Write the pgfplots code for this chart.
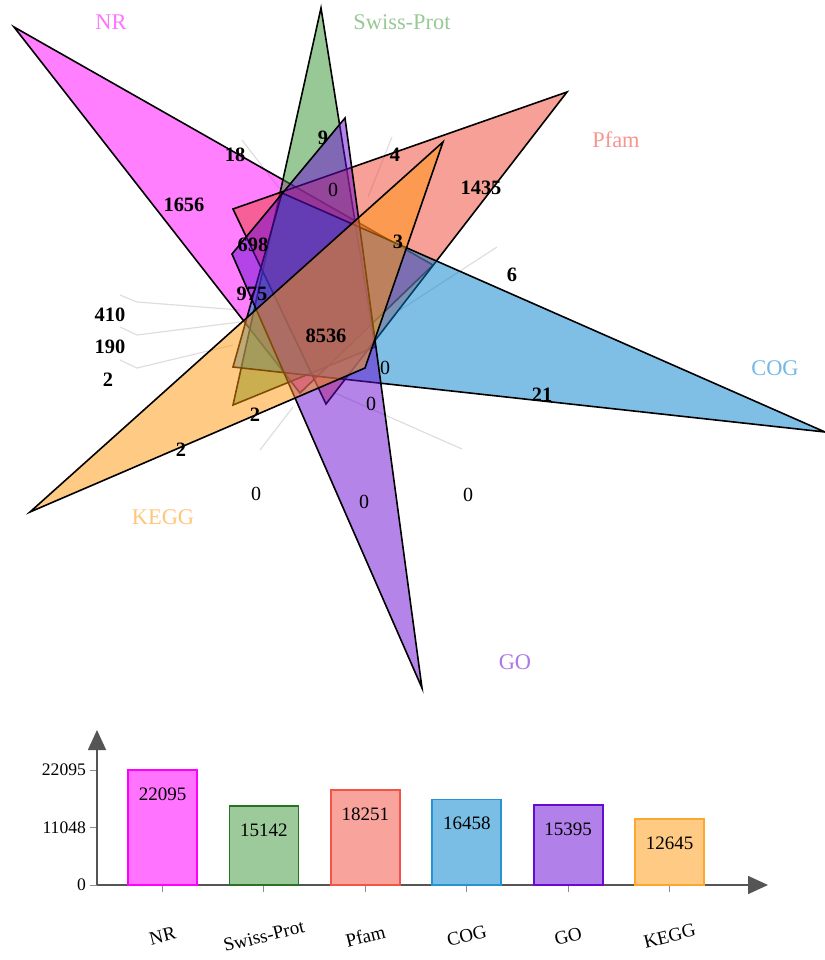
\documentclass[border=0pt]{standalone}
\usepackage{pgfplots}
\pgfplotsset{compat=1.18}
\usepackage{fontspec}
\setmainfont{Liberation Serif}
\usetikzlibrary{arrows.meta}
\pgfkeys{/pgf/number format/1000 sep={}}
\definecolor{cNR}{RGB}{255,0,255}
\definecolor{cSP}{RGB}{50,145,45}
\definecolor{cPF}{RGB}{240,65,50}
\definecolor{cCOG}{RGB}{0,128,205}
\definecolor{cGO}{RGB}{105,10,210}
\definecolor{cKE}{RGB}{255,150,10}
\definecolor{axgray}{RGB}{85,85,85}
\begin{document}
\begin{tikzpicture}
\useasboundingbox (0,0) rectangle (412.5pt,480pt);
\begin{axis}[at={(0pt,0pt)}, anchor=south west, width=412.5pt, height=480pt,
  scale only axis, xmin=0, xmax=825, ymin=0, ymax=960, y dir=reverse,
  hide axis, clip=false]
% leader lines
\addplot[black!13, line width=0.6pt] coordinates {(242,140) (279,188)};
\addplot[black!13, line width=0.6pt] coordinates {(392,137) (368,197)};
\addplot[black!13, line width=0.6pt] coordinates {(497,247) (400,310)};
\addplot[black!13, line width=0.6pt] coordinates {(120,295) (137,302) (240,310)};
\addplot[black!13, line width=0.6pt] coordinates {(120,327) (137,335) (240,322)};
\addplot[black!13, line width=0.6pt] coordinates {(120,360) (137,368) (233,345)};
\addplot[black!13, line width=0.6pt] coordinates {(260,450) (293,407)};
\addplot[black!13, line width=0.6pt] coordinates {(335,393) (462,449)};
% triangles (sets)
\addplot[fill=cNR, fill opacity=0.5, draw=black, line width=0.8pt] coordinates {(14,27) (433,265) (300,393)} -- cycle;
\addplot[fill=cSP, fill opacity=0.5, draw=black, line width=0.8pt] coordinates {(321,8) (233,405) (375,347)} -- cycle;
\addplot[fill=cPF, fill opacity=0.5, draw=black, line width=0.8pt] coordinates {(567,92) (233,209) (326,404)} -- cycle;
\addplot[fill=cCOG, fill opacity=0.5, draw=black, line width=0.8pt] coordinates {(825,432) (233,367) (282,193)} -- cycle;
\addplot[fill=cGO, fill opacity=0.5, draw=black, line width=0.8pt] coordinates {(422,688) (345,118) (232,254)} -- cycle;
\addplot[fill=cKE, fill opacity=0.5, draw=black, line width=0.8pt] coordinates {(30,512) (443,142) (365,368)} -- cycle;
% set names
\node[font=\fontsize{11.2}{12}\selectfont, text=cNR!55] at (axis cs:111,22) {NR};
\node[font=\fontsize{11.2}{12}\selectfont, text=cSP!50] at (axis cs:402,22) {Swiss-Prot};
\node[font=\fontsize{11.2}{12}\selectfont, text=cPF!55] at (axis cs:616,140) {Pfam};
\node[font=\fontsize{11.2}{12}\selectfont, text=cCOG!55] at (axis cs:775,368) {COG};
\node[font=\fontsize{11.2}{12}\selectfont, text=cKE!55] at (axis cs:163,517) {KEGG};
\node[font=\fontsize{11.2}{12}\selectfont, text=cGO!55] at (axis cs:515,662) {GO};
% counts
\begin{scope}[every node/.style={font=\fontsize{10.2}{11}\selectfont\bfseries, inner sep=0pt}]
\node at (axis cs:235,155) {18};
\node at (axis cs:323,138) {9};
\node at (axis cs:395,155) {4};
\node at (axis cs:184,205) {1656};
\node at (axis cs:481,188) {1435};
\node at (axis cs:253,245) {698};
\node at (axis cs:398,242) {3};
\node at (axis cs:512,275) {6};
\node at (axis cs:252,294) {975};
\node at (axis cs:326,336) {8536};
\node at (axis cs:110,315) {410};
\node at (axis cs:110,347) {190};
\node at (axis cs:108,380) {2};
\node at (axis cs:542,395) {21};
\node at (axis cs:255,415) {2};
\node at (axis cs:181,450) {2};
\end{scope}
\begin{scope}[every node/.style={font=\fontsize{10}{11}\selectfont, inner sep=0pt}]
\node at (axis cs:333,190) {0};
\node at (axis cs:385,368) {0};
\node at (axis cs:371,404) {0};
\node at (axis cs:256,494) {0};
\node at (axis cs:364,502) {0};
\node at (axis cs:468,495) {0};
\end{scope}
\end{axis}
\begin{axis}[at={(48.5pt,37.5pt)}, anchor=south west, width=335.5pt, height=77.5pt,
  scale only axis, xmin=-0.646, xmax=5.97, ymin=0, ymax=29780,
  axis x line=bottom, axis y line=left,
  axis line style={draw=axgray, line width=0.8pt},
  x axis line style={-{Triangle[length=10pt,width=9pt]}},
  y axis line style={-{Triangle[length=10pt,width=9pt]}},
  scaled y ticks=false,
  ytick={0,11048,22095}, yticklabels={0,11048,22095},
  xtick={0,1,2,3,4,5}, xticklabels={NR,Swiss-Prot,Pfam,COG,GO,KEGG},
  tick align=outside, major tick length=3.5pt,
  tick style={draw=black!45, line width=0.5pt},
  /pgf/number format/assume math mode=true,
  yticklabel style={font=\fontsize{8.8}{10}\selectfont, xshift=1.5pt},
  xticklabel style={font=\fontsize{9.5}{10}\selectfont, anchor=center, yshift=-22pt, rotate=14},
  ybar, bar width=34.5pt,
  nodes near coords,
  nodes near coords style={font=\fontsize{9.5}{10}\selectfont, anchor=center, yshift=-12pt, text=black},
  clip=false]
\addplot[bar shift=0pt, fill=cNR!55, draw=cNR, line width=0.8pt] coordinates {(0,22095)};
\addplot[bar shift=0pt, fill=cSP!48, draw=cSP!80!black, line width=0.8pt] coordinates {(1,15142)};
\addplot[bar shift=0pt, fill=cPF!48, draw=cPF!90, line width=0.8pt] coordinates {(2,18251)};
\addplot[bar shift=0pt, fill=cCOG!52, draw=cCOG!85, line width=0.8pt] coordinates {(3,16458)};
\addplot[bar shift=0pt, fill=cGO!52, draw=cGO, line width=0.8pt] coordinates {(4,15395)};
\addplot[bar shift=0pt, fill=cKE!50, draw=cKE!85, line width=0.8pt] coordinates {(5,12645)};
\end{axis}
\end{tikzpicture}
\end{document}
